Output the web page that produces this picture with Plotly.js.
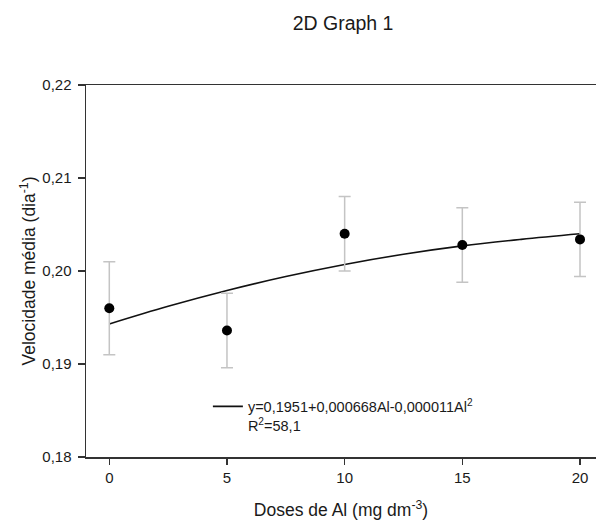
<!DOCTYPE html>
<html>
<head>
<meta charset="utf-8">
<script src="https://cdn.plot.ly/plotly-3.0.1.min.js"></script>
<style>html,body{margin:0;padding:0;background:#fff;}#chart{width:596px;height:520px;}</style>
</head>
<body>
<div id="chart"></div>
<script>
// Observed means
var doses = [0, 5, 10, 15, 20];
var velocidade = [0.1960, 0.1936, 0.2040, 0.2028, 0.2034];
var erro = [0.0050, 0.0040, 0.0040, 0.0040, 0.0040];

// Fitted curve
var fitDoses = [0, 2.5, 5, 7.5, 10, 12.5, 15, 17.5, 20];
var fitVel = [0.1943, 0.1962, 0.1979, 0.1994, 0.2007, 0.2018, 0.2027, 0.2034, 0.2040];

var xTicks = [0, 5, 10, 15, 20];
var yTicks = [0.18, 0.19, 0.20, 0.21, 0.22];

var FONT = 'Liberation Sans, Arial, sans-serif';

var traces = [
  {
    x: fitDoses, y: fitVel, type: 'scatter', mode: 'lines',
    line: {color: '#111', width: 1.6, shape: 'spline'},
    name: 'y=0,1951+0,000668Al-0,000011Al<sup>2</sup><br>R<sup>2</sup>=58,1',
    showlegend: true, hoverinfo: 'skip'
  },
  {
    x: doses, y: velocidade, type: 'scatter', mode: 'markers',
    marker: {color: '#000', size: 10},
    error_y: {type: 'data', array: erro, visible: true, color: '#c4c4c4', thickness: 1.5, width: 6},
    showlegend: false
  }
];

var layout = {
  width: 596, height: 520,
  margin: {l: 86, r: 0, t: 85, b: 63},
  paper_bgcolor: '#fff', plot_bgcolor: '#fff',
  separators: ',.',
  font: {family: FONT, color: '#1a1a1a', size: 15},
  title: {
    text: '2D Graph 1', font: {family: FONT, size: 19.5, color: '#1a1a1a'},
    x: 0.504, xref: 'paper', xanchor: 'center',
    y: 1 - 23/520, yref: 'container', yanchor: 'middle'
  },
  xaxis: {
    range: [-0.99, 20.68], tickvals: xTicks, ticktext: xTicks.map(String),
    showgrid: false, zeroline: false,
    showline: true, linecolor: '#333', linewidth: 1.5, mirror: true,
    ticks: 'outside', ticklen: 6, tickwidth: 1.2, tickcolor: '#333',
    tickfont: {family: FONT, size: 15, color: '#1a1a1a'},
    title: {text: 'Doses de Al (mg dm<sup>-3</sup>)', font: {family: FONT, size: 17.5, color: '#1a1a1a'}, standoff: 20},
    automargin: false
  },
  yaxis: {
    range: [0.18, 0.22], tickvals: yTicks, tickformat: '.2f',
    showgrid: false, zeroline: false,
    showline: true, linecolor: '#333', linewidth: 1.5, mirror: false,
    ticks: 'outside', ticklen: 7, tickwidth: 1.2, tickcolor: '#333',
    ticklabelstandoff: 3,
    tickfont: {family: FONT, size: 15, color: '#1a1a1a'},
    title: {text: 'Velocidade média (dia<sup>-1</sup>)', font: {family: FONT, size: 17.5, color: '#1a1a1a'}, standoff: 2},
    automargin: false
  },
  legend: {
    x: 0.239, xanchor: 'left', y: 0.179, yanchor: 'top',
    bgcolor: 'rgba(0,0,0,0)', borderwidth: 0,
    font: {family: FONT, size: 14.5, color: '#1a1a1a'},
    valign: 'top', tracegroupgap: 0
  },
  showlegend: true
};

Plotly.newPlot('chart', traces, layout, {displayModeBar: false, staticPlot: true});
</script>
</body>
</html>
